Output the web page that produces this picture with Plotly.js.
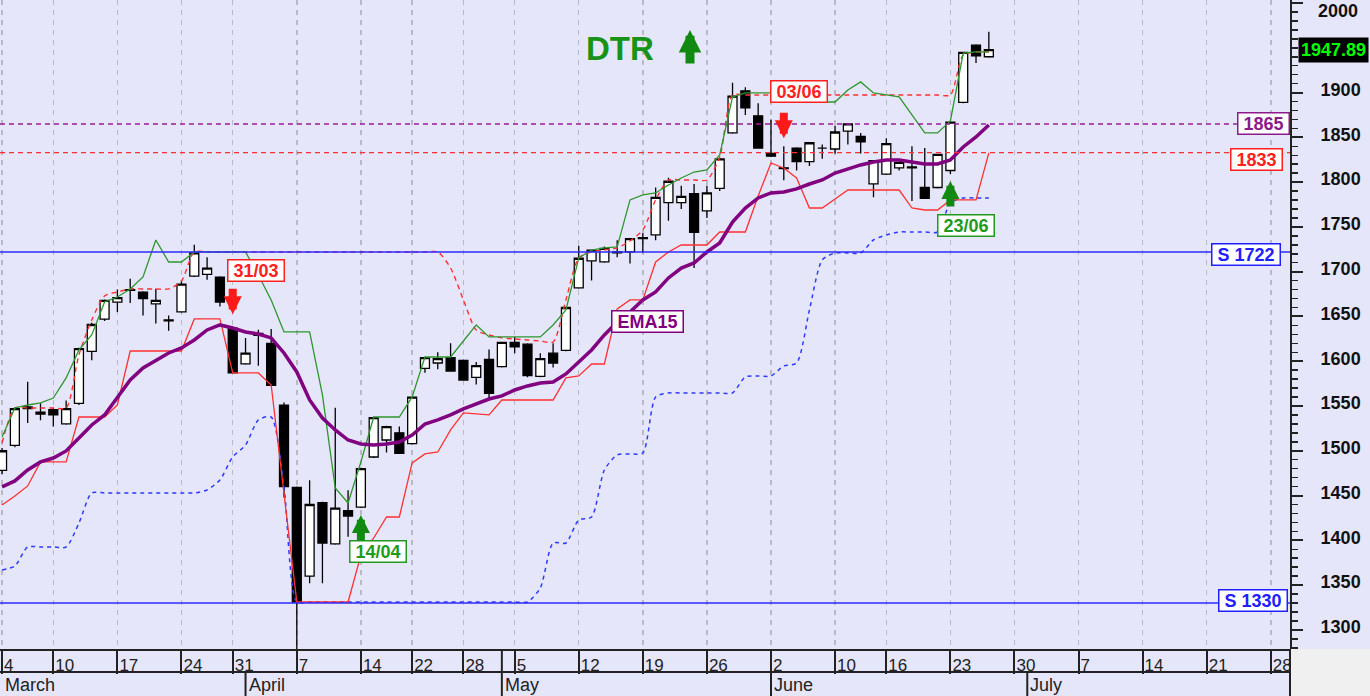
<!DOCTYPE html>
<html><head><meta charset="utf-8">
<script src="https://cdn.plot.ly/plotly-3.0.1.min.js"></script>
<style>html,body{margin:0;padding:0;background:#E6E6FA;}#chart{width:1370px;height:696px;}</style>
</head><body><div id="chart"></div>
<script>
const dates = ['2025-03-04','2025-03-05','2025-03-06','2025-03-07',
'2025-03-10','2025-03-11','2025-03-12','2025-03-13','2025-03-14',
'2025-03-17','2025-03-18','2025-03-19','2025-03-20','2025-03-21',
'2025-03-24','2025-03-25','2025-03-26','2025-03-27',
'2025-03-31','2025-04-01','2025-04-02','2025-04-03','2025-04-04',
'2025-04-07','2025-04-08','2025-04-09','2025-04-10','2025-04-11',
'2025-04-14','2025-04-15','2025-04-16','2025-04-17',
'2025-04-22','2025-04-23','2025-04-24','2025-04-25',
'2025-04-28','2025-04-29','2025-04-30','2025-05-02',
'2025-05-05','2025-05-06','2025-05-07','2025-05-08','2025-05-09',
'2025-05-12','2025-05-13','2025-05-14','2025-05-15','2025-05-16',
'2025-05-19','2025-05-20','2025-05-21','2025-05-22','2025-05-23',
'2025-05-26','2025-05-27','2025-05-28','2025-05-29','2025-05-30',
'2025-06-02','2025-06-03','2025-06-04','2025-06-05','2025-06-06',
'2025-06-10','2025-06-11','2025-06-12','2025-06-13',
'2025-06-16','2025-06-17','2025-06-18','2025-06-19','2025-06-20',
'2025-06-23','2025-06-24','2025-06-25','2025-06-26'];

const futureDates = ['2025-06-27','2025-06-30','2025-07-01','2025-07-02','2025-07-03','2025-07-04',
'2025-07-07','2025-07-08','2025-07-09','2025-07-10','2025-07-11',
'2025-07-14','2025-07-15','2025-07-16','2025-07-17','2025-07-18',
'2025-07-21','2025-07-22','2025-07-23','2025-07-24','2025-07-25',
'2025-07-28','2025-07-29','2025-07-30','2025-07-31'];

const open = [1478,1506,1547,1543,1546,1530,1553,1611,1647,1666, 1679,1677,1664,1646,1655,1695,1697,1694,1637,1597, 1629,1620,1551,1459,1360,1442,1396,1433,1437,1493, 1512,1520,1508,1592,1598,1604,1601,1582,1602,1594, 1621,1619,1583,1609,1612,1682,1712,1711,1721,1722, 1737,1741,1777,1777,1787,1768,1793,1855,1902,1874, 1832,1816,1838,1823,1838,1837,1857,1851,1798,1809, 1816,1817,1794,1794,1813,1889,1953,1940];
const high = [1503,1549,1577,1553,1548,1556,1615,1643,1669,1680, 1692,1678,1681,1651,1690,1730,1716,1695,1638,1626, 1635,1636,1554,1460,1467,1443,1548,1456,1481,1538, 1528,1527,1561,1605,1610,1620,1602,1599,1613,1621, 1627,1620,1609,1620,1660,1729,1724,1728,1735,1737, 1743,1794,1805,1796,1798,1796,1826,1911,1906,1888, 1870,1840,1839,1844,1842,1863,1866,1855,1824,1849, 1823,1840,1838,1831,1868,1945,1954,1968];
const low = [1474,1504,1531,1534,1527,1529,1551,1601,1645,1655, 1665,1651,1642,1634,1654,1694,1691,1661,1587,1596, 1595,1573,1448,1270,1352,1352,1395,1404,1436,1492, 1498,1497,1507,1587,1591,1589,1579,1574,1559,1593, 1609,1582,1582,1593,1611,1681,1690,1710,1716,1709, 1721,1735,1757,1770,1704,1760,1790,1854,1875,1838, 1828,1802,1813,1818,1826,1832,1842,1832,1783,1808, 1813,1779,1782,1793,1809,1888,1933,1939];
const close = [1500,1547,1549,1541,1540,1547,1614,1641,1668,1671, 1680,1670,1668,1645,1686,1721,1704,1666,1587,1609, 1631,1573,1460,1331,1440,1397,1436,1427,1480,1537, 1527,1497,1560,1604,1603,1589,1579,1595,1564,1621, 1616,1584,1603,1598,1660,1715,1724,1726,1722,1737, 1738,1783,1801,1784,1744,1788,1826,1896,1883,1838, 1829,1815,1823,1844,1838,1856,1865,1845,1824,1843, 1822,1816,1782,1831,1867,1945,1941,1947.89];

const ema15 = [1459.6,1466.3,1478.5,1487.5,1491.9,1499.8,1514.3,1528.8,1540.0,1558.9,
1579.0,1592.5,1601.4,1609.2,1614.8,1623.7,1634.9,1640.5,1637.1,1632.7,
1630.4,1626.0,1609.2,1588.0,1556.7,1536.6,1523.2,1512.0,1507.6,1506.5,
1507.6,1509.8,1517.6,1529.9,1534.4,1540.0,1546.7,1552.2,1557.8,1561.2,
1567.9,1572.4,1575.7,1576.8,1585.8,1599.2,1612.6,1629.3,1643.8,1655.0,
1668.4,1677.3,1693.0,1704.1,1709.7,1722.0,1732.1,1755.5,1771.1,1782.3,
1787.9,1789.0,1792.4,1797.9,1802.4,1810.2,1814.7,1819.2,1822.5,1824.7,
1824.7,1822.5,1820.3,1820.3,1824.7,1839.3,1850.4,1863.8];

const upperBand = [1515.4,1547.8,1551.1,1553.4,1558.9,1581.3,1612.6,1629.3,1666.2,1671.7,
1680.7,1694.1,1735.4,1710.8,1710.8,1722,1722,1722,1722,1722,
1696.3,1668.4,1632.7,1632.7,1632.7,1562.3,1458.4,1441.7,1487.5,1537.7,
1537.7,1537.7,1560.1,1604.7,1604.7,1604.7,1622.6,1640.5,1627.1,1627.1,
1627.1,1627.1,1627.1,1640.5,1657.2,1715.3,1724.2,1726.5,1727.6,1780.1,
1785.7,1787.9,1796.8,1804.6,1811.3,1813.6,1830.3,1895.1,1899.6,1899.6,
1899.6,1895.1,1889.5,1889.5,1889.5,1889.5,1902.9,1911.9,1899.6,1897.3,
1895.1,1875.0,1854.9,1854.9,1868.3,1944.2,1945.4,1945.4];

const lowerBand = [1439.5,1449.5,1460.7,1487.5,1487.5,1487.5,1537.7,1537.7,1537.7,1551.1,
1611.4,1611.4,1611.4,1611.4,1611.4,1647.2,1647.2,1647.2,1586.9,1586.9,
1586.9,1573.5,1454.0,1331.1,1331.1,1331.1,1331.1,1331.1,1383.6,1402.6,
1426.0,1426.0,1486.4,1496.4,1498.6,1523.2,1542.2,1541.1,1540.0,1556.7,
1556.7,1556.7,1556.7,1556.7,1581.3,1583.5,1596.9,1596.9,1658.3,1668.4,
1668.4,1710.8,1722.0,1729.8,1729.8,1729.8,1744.3,1744.3,1744.3,1784.5,
1821.4,1815.8,1804.6,1771.1,1771.1,1781.2,1791.2,1791.2,1791.2,1791.2,
1791.2,1771.1,1768.9,1768.9,1780.1,1780.1,1780.1,1832.6];

const resistance = [1508.7,1547.8,1547.8,1547.8,1547.8,1547.8,1607.0,1646.1,1672.9,1677.3,
1680.7,1680.7,1680.7,1680.7,1689.6,1722,1722,1722,1722,1722,
1722,1722,1722,1722,1722,1722,1722,1722,1722,1722,
1722,1722,1722,1722,1722,1704.1,1668.4,1634.9,1629.3,1626.0,
1624.8,1623.7,1622.6,1621.5,1668.4,1715.3,1722,1724.2,1726.5,1734.3,
1746.6,1780.1,1802.4,1802.4,1802.4,1802.4,1828.1,1897.3,1897.3,1897.3,
1897.3,1897.3,1897.3,1897.3,1897.3,1897.3,1897.3,1897.3,1897.3,1897.3,
1897.3,1897.3,1897.3,1897.3,1897.3,1942.0,1945.4,1945.4];

const support = [1366.9,1371.3,1392.5,1392.5,1392.5,1392.5,1419.3,1452.9,1452.9,1452.9,
1452.9,1452.9,1452.9,1452.9,1452.9,1452.9,1456.2,1467.4,1493.1,1506.5,
1534.4,1537.7,1459.6,1331.1,1331.1,1331.1,1331.1,1331.1,1331.1,1331.1,
1331.1,1331.1,1331.1,1331.1,1331.1,1331.1,1331.1,1331.1,1331.1,1331.1,
1331.1,1331.1,1346.8,1397.0,1397.0,1422.7,1426.0,1478.5,1495.3,1496.4,
1497.5,1560.1,1564.5,1564.5,1564.5,1564.5,1564.5,1564.5,1582.4,1583.5,
1583.5,1594.7,1598.0,1657.2,1713.1,1720.9,1720.9,1720.9,1735.4,1741.0,
1744.3,1744.3,1744.3,1744.3,1776.7,1782.3,1782.3,1782.3];

const weekTicks = ['2025-03-04','2025-03-10','2025-03-17','2025-03-24','2025-03-31','2025-04-07','2025-04-14','2025-04-22','2025-04-28','2025-05-05','2025-05-12','2025-05-19','2025-05-26','2025-06-02','2025-06-10','2025-06-16','2025-06-23','2025-06-30','2025-07-07','2025-07-14','2025-07-21','2025-07-28'];
const weekLabels = ['4','10','17','24','31','7','14','22','28','5','12','19','26','2','10','16','23','30','7','14','21','28'];
const monthStarts = ['2025-03-04','2025-04-01','2025-05-02','2025-06-02','2025-07-01'];
const monthNames = ['March','April','May','June','July'];
const priceTicks = [1300,1350,1400,1450,1500,1550,1600,1650,1700,1750,1800,1850,1900,2000];
const topTick = 2000;

const supportLevels = [1722, 1330];
const emaLevel = 1865;
const stopLevel = 1833;
const lastPrice = 1947.89;
const sellSignals = ['2025-03-31','2025-06-03'];
const sellLabels = ['31/03','03/06'];
const buySignals = ['2025-04-14','2025-06-23'];
const buyLabels = ['14/04','23/06'];

const allDates = dates.concat(futureDates);
const FONT = 'Liberation Sans, Arial, sans-serif';
const RED = '#ff2020', PURPLE = '#800080', BLUE = '#2020ff';
const NB = '\u00a0';
const idx = d => dates.indexOf(d);

const traces = [
  {type:'candlestick', x:dates, open:open, high:high, low:low, close:close,
   increasing:{line:{color:'#000', width:1.3}, fillcolor:'#ffffff'},
   decreasing:{line:{color:'#000', width:1.3}, fillcolor:'#000000'},
   whiskerwidth:0, hoverinfo:'skip', showlegend:false},
  {type:'scatter', mode:'lines', x:dates, y:support, line:{color:'#2b3bff', width:1.5, dash:'4px,4px', shape:'spline', smoothing:0.7}, hoverinfo:'skip'},
  {type:'scatter', mode:'lines', x:dates, y:resistance, line:{color:'#ff3030', width:1.4, dash:'5px,4px', shape:'spline', smoothing:0.7}, hoverinfo:'skip'},
  {type:'scatter', mode:'lines', x:dates, y:upperBand, line:{color:'#2e962e', width:1.3}, hoverinfo:'skip'},
  {type:'scatter', mode:'lines', x:dates, y:lowerBand, line:{color:'#ff3030', width:1.3}, hoverinfo:'skip'},
  {type:'scatter', mode:'lines', x:dates, y:ema15, line:{color:PURPLE, width:3.5}, hoverinfo:'skip'}
];

const shapes = [];
supportLevels.forEach(v => shapes.push({type:'line', xref:'paper', x0:0, x1:1, yref:'y', y0:v, y1:v, line:{color:'#2b2bff', width:1.6}}));
shapes.push({type:'line', xref:'paper', x0:0, x1:1, yref:'y', y0:emaLevel, y1:emaLevel, line:{color:'#9a1f9a', width:1.4, dash:'5px,4px'}});
shapes.push({type:'line', xref:'paper', x0:0, x1:1, yref:'y', y0:stopLevel, y1:stopLevel, line:{color:'#ff3030', width:1.4, dash:'5px,4px'}});
const H = 649;
shapes.push({type:'rect', xref:'paper', x0:1, x1:1370/1290, yref:'paper', y0:-47/H, y1:0, fillcolor:'#f0f0f0', line:{width:0}});
shapes.push({type:'line', xref:'paper', x0:0, x1:1, yref:'paper', y0:-23/H, y1:-23/H, line:{color:'#222', width:2}});
shapes.push({type:'line', xref:'paper', x0:1, x1:1, yref:'paper', y0:-47/H, y1:0, line:{color:'#222', width:2}});
monthStarts.forEach((d, k) => {
  if (k === 0) return;
  shapes.push({type:'line', xref:'x', x0:d, x1:d, yref:'paper', y0:-47/H, y1:-23/H, line:{color:'#222', width:2}});
});
shapes.push({type:'line', xref:'x', x0:monthStarts[2], x1:monthStarts[2], yref:'paper', y0:-23/H, y1:0, line:{color:'#222', width:2}});

const annotations = [];
monthNames.forEach((m, k) => annotations.push({xref:'x', x:monthStarts[k], xanchor:'left', xshift:1, yref:'paper', y:0, yanchor:'top', yshift:-24, text:m, showarrow:false, font:{family:FONT, size:18, color:'#222'}}));
annotations.push({xref:'paper', x:1, xanchor:'left', xshift:27, yref:'y', y:topTick, yanchor:'middle', yshift:-8, borderpad:0, text:String(topTick), showarrow:false, font:{family:FONT, size:18, weight:'bold', color:'#111'}});

function boxLabel(o) {
  return Object.assign({showarrow:false, bgcolor:'#ffffff', borderwidth:1.5, borderpad:0, font:{family:FONT, size:18, weight:'bold', color:o.color}, bordercolor:o.color}, o, {text:NB + o.text + NB});
}
annotations.push(boxLabel({xref:'paper', x:1, xanchor:'right', xshift:0, yref:'y', y:emaLevel, yanchor:'middle', text:String(emaLevel), color:'#8b1a8b'}));
annotations.push(boxLabel({xref:'paper', x:1, xanchor:'right', xshift:-7, yref:'y', y:stopLevel, yanchor:'middle', yshift:-7, text:String(stopLevel), color:RED}));
annotations.push(boxLabel({xref:'paper', x:1, xanchor:'right', xshift:-9, yref:'y', y:supportLevels[0], yanchor:'middle', yshift:-3, text:'S ' + supportLevels[0], color:BLUE}));
annotations.push(boxLabel({xref:'paper', x:1, xanchor:'right', xshift:-2, yref:'y', y:supportLevels[1], yanchor:'middle', yshift:2, text:'S ' + supportLevels[1], color:BLUE}));
annotations.push({xref:'paper', x:1, xanchor:'left', xshift:8, yref:'y', y:lastPrice, yanchor:'middle', text:lastPrice.toFixed(2), showarrow:false, bgcolor:'#000000', borderpad:2, font:{family:FONT, size:18, weight:'bold', color:'#00ff00'}});
annotations.push(boxLabel({xref:'x', x:'2025-05-14', xanchor:'left', xshift:7, yref:'y', y:1644.4, yanchor:'middle', text:'EMA15', color:PURPLE}));
const sellLabelY = [1701.3, 1900.7], sellShift = [-6, -14];
const buyLabelY = [1388, 1752], buyShift = [-12, -13];
sellSignals.forEach((d, k) => {
  annotations.push(boxLabel({xref:'x', x:d, xanchor:'left', xshift:sellShift[k], yref:'y', y:sellLabelY[k], yanchor:'middle', text:sellLabels[k], color:RED}));
  annotations.push({xref:'x', x:d, yref:'y', y:high[idx(d)], yshift:[13, 8][k], ax:0, ay:-27, text:'', showarrow:true, arrowhead:2, arrowsize:0.45, arrowwidth:8, arrowcolor:'#ff1a1a', standoff:0});
});
buySignals.forEach((d, k) => {
  annotations.push(boxLabel({xref:'x', x:d, xanchor:'left', xshift:buyShift[k], yref:'y', y:buyLabelY[k], yanchor:'middle', text:buyLabels[k], color:'#1f9a1f'}));
  annotations.push({xref:'x', x:d, yref:'y', y:low[idx(d)], yshift:-7, ax:0, ay:27, text:'', showarrow:true, arrowhead:2, arrowsize:0.45, arrowwidth:8, arrowcolor:'#118a11', standoff:0});
});
annotations.push({xref:'paper', x:620/1290, yref:'paper', y:1-48.5/H, xanchor:'center', yanchor:'middle', text:'DTR', showarrow:false, font:{family:FONT, size:33, weight:'bold', color:'#179417'}});
annotations.push({xref:'paper', x:690/1290, yref:'paper', y:1-30/H, ax:0, ay:35, text:'', showarrow:true, arrowhead:2, arrowsize:0.5, arrowwidth:9, arrowcolor:'#118a11', standoff:0});

const layout = {
  width:1370, height:696,
  margin:{l:0, r:80, t:0, b:47, pad:0},
  paper_bgcolor:'#E6E6FA', plot_bgcolor:'#E6E6FA',
  showlegend:false, hovermode:false,
  boxgap:0.3, boxgroupgap:0,
  font:{family:FONT, color:'#111'},
  xaxis:{type:'category', categoryorder:'array', categoryarray:allDates, range:[-0.16, 100.5],
    tickmode:'array', tickvals:weekTicks, ticktext:weekLabels,
    ticks:'outside', ticklen:23, tickwidth:2, tickcolor:'#222',
    ticklabelposition:'outside right', ticklabelstandoff:0,
    tickfont:{family:FONT, size:17, color:'#222'},
    showgrid:true, gridcolor:'#b9b9c6', griddash:'5px,5px', gridwidth:1.5,
    showline:true, linecolor:'#222', linewidth:2, zeroline:false,
    rangeslider:{visible:false}, fixedrange:true},
  yaxis:{side:'right', range:[1278.6, 2003.4], tickmode:'array', tickvals:priceTicks,
    ticktext:priceTicks.map(v => v === topTick ? '' : String(v)),
    ticks:'outside', ticklen:11, tickwidth:2, tickcolor:'#222',
    showline:true, linecolor:'#222', linewidth:2, showgrid:false, zeroline:false,
    tickfont:{family:FONT, size:18, weight:'bold', color:'#111'},
    ticklabelstandoff:14, ticklabelshift:-3, ticklabeloverflow:'allow',
    minor:{tickmode:'linear', tick0:1300, dtick:10, ticks:'outside', ticklen:6, tickwidth:1.5, tickcolor:'#222', showgrid:false},
    fixedrange:true},
  shapes:shapes, annotations:annotations
};

Plotly.newPlot('chart', traces, layout, {staticPlot:true, displayModeBar:false});
</script>
</body></html>
